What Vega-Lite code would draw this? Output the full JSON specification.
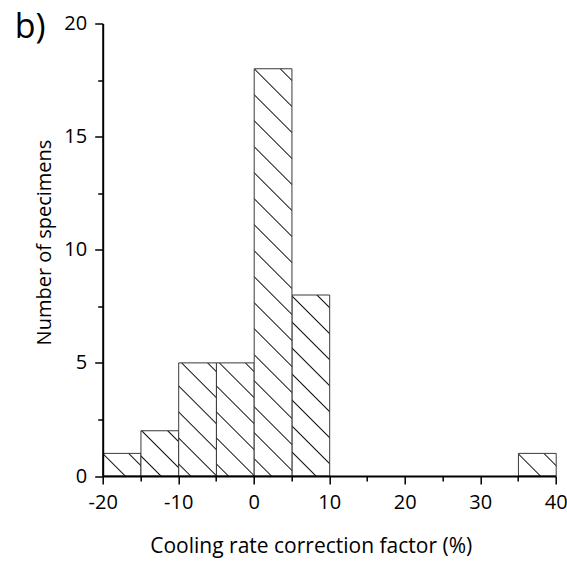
{
  "$schema": "https://vega.github.io/schema/vega-lite/v6.json",
  "width": 453,
  "height": 452.5,
  "autosize": "none",
  "padding": {"left": 102.7, "top": 23.5, "right": 11.3, "bottom": 89},
  "background": "#ffffff",
  "config": {"view": {"stroke": null}, "axis": {"grid": false}},
  "title": {"text": "b)", "anchor": "start", "frame": "group", "font": "Open Sans", "fontSize": 34, "fontWeight": "normal", "color": "#000", "baseline": "alphabetic", "offset": 0, "dx": -88, "dy": 58},
  "data": {"values": [
    {"bin_start": -20, "bin_end": -15, "count": 1},
    {"bin_start": -15, "bin_end": -10, "count": 2},
    {"bin_start": -10, "bin_end": -5, "count": 5},
    {"bin_start": -5, "bin_end": 0, "count": 5},
    {"bin_start": 0, "bin_end": 5, "count": 18},
    {"bin_start": 5, "bin_end": 10, "count": 8},
    {"bin_start": 35, "bin_end": 40, "count": 1}
  ]},
  "encoding": {
    "x": {"field": "bin_start", "type": "quantitative", "bin": "binned",
      "scale": {"domain": [-20, 40], "nice": false, "zero": false},
      "axis": {"title": "Cooling rate correction factor (%)", "zindex": 1,
        "values": [-20, -15, -10, -5, 0, 5, 10, 15, 20, 25, 30, 35, 40],
        "labelExpr": "datum.value % 10 === 0 ? '' + datum.value : ''",
        "tickSize": {"condition": {"test": "datum.value % 10 === 0", "value": 8}, "value": 5},
        "labelPadding": 8, "labelFont": "Open Sans", "labelFontSize": 20, "labelColor": "#000",
        "labelOverlap": false, "labelFlush": false,
        "domainColor": "#000", "domainWidth": 2, "tickColor": "#000", "tickWidth": 1.5,
        "titleFont": "Open Sans", "titleFontSize": 21, "titleFontWeight": "normal", "titleColor": "#000",
        "titleX": 208, "titleY": 76, "titleAlign": "center", "titleBaseline": "alphabetic"}},
    "x2": {"field": "bin_end"},
    "y": {"field": "count", "type": "quantitative",
      "scale": {"domain": [0, 20], "nice": false},
      "axis": {"title": "Number of specimens", "zindex": 1,
        "values": [0, 2.5, 5, 7.5, 10, 12.5, 15, 17.5, 20],
        "labelExpr": "datum.value % 5 === 0 ? '' + datum.value : ''",
        "tickSize": {"condition": {"test": "datum.value % 5 === 0", "value": 8}, "value": 5},
        "labelPadding": 8, "labelFont": "Open Sans", "labelFontSize": 20, "labelColor": "#000",
        "labelOverlap": false, "labelFlush": false,
        "domainColor": "#000", "domainWidth": 2, "tickColor": "#000", "tickWidth": 1.5,
        "titleFont": "Open Sans", "titleFontSize": 20, "titleFontWeight": "normal", "titleColor": "#000",
        "titleAngle": 270, "titleX": -52, "titleY": 218.5, "titleAlign": "center", "titleBaseline": "alphabetic"}}
  },
  "layer": [
    {"transform": [{"filter": "datum.count === 1"}],
     "mark": {"type": "bar", "binSpacing": 0, "stroke": "#3a3a3a", "strokeWidth": 1,
       "fill": {"gradient": "linear", "x1": 0, "y1": 1, "x2": 1.17667, "y2": 0.29478, "stops": [
         {"offset": 0, "color": "#fff"},
         {"offset": 0.3413, "color": "#fff"}, {"offset": 0.3645, "color": "#111"}, {"offset": 0.3877, "color": "#fff"},
         {"offset": 0.7722, "color": "#fff"}, {"offset": 0.7954, "color": "#111"}, {"offset": 0.8186, "color": "#fff"},
         {"offset": 1, "color": "#fff"}]}}},
    {"transform": [{"filter": "datum.count === 2"}],
     "mark": {"type": "bar", "binSpacing": 0, "stroke": "#3a3a3a", "strokeWidth": 1,
       "fill": {"gradient": "linear", "x1": 0, "y1": 1, "x2": 0.90227, "y2": -0.08152, "stops": [
         {"offset": 0, "color": "#fff"},
         {"offset": 0.2241, "color": "#fff"}, {"offset": 0.2410, "color": "#111"}, {"offset": 0.2578, "color": "#fff"},
         {"offset": 0.5373, "color": "#fff"}, {"offset": 0.5542, "color": "#111"}, {"offset": 0.5711, "color": "#fff"},
         {"offset": 0.8506, "color": "#fff"}, {"offset": 0.8675, "color": "#111"}, {"offset": 0.8843, "color": "#fff"},
         {"offset": 1, "color": "#fff"}]}}},
    {"transform": [{"filter": "datum.count === 5"}],
     "mark": {"type": "bar", "binSpacing": 0, "stroke": "#3a3a3a", "strokeWidth": 1,
       "fill": {"gradient": "linear", "x1": 0, "y1": 1, "x2": 0.40047, "y2": -0.20005, "stops": [
         {"offset": 0, "color": "#fff"},
         {"offset": 0.0703, "color": "#fff"}, {"offset": 0.0795, "color": "#111"}, {"offset": 0.0888, "color": "#fff"},
         {"offset": 0.2426, "color": "#fff"}, {"offset": 0.2519, "color": "#111"}, {"offset": 0.2612, "color": "#fff"},
         {"offset": 0.4150, "color": "#fff"}, {"offset": 0.4243, "color": "#111"}, {"offset": 0.4335, "color": "#fff"},
         {"offset": 0.5873, "color": "#fff"}, {"offset": 0.5966, "color": "#111"}, {"offset": 0.6059, "color": "#fff"},
         {"offset": 0.7597, "color": "#fff"}, {"offset": 0.7690, "color": "#111"}, {"offset": 0.7783, "color": "#fff"},
         {"offset": 0.9320, "color": "#fff"}, {"offset": 0.9413, "color": "#111"}, {"offset": 0.9506, "color": "#fff"},
         {"offset": 1, "color": "#fff"}]}}},
    {"transform": [{"filter": "datum.count === 8"}],
     "mark": {"type": "bar", "binSpacing": 0, "stroke": "#3a3a3a", "strokeWidth": 1,
       "fill": {"gradient": "linear", "x1": 0, "y1": 1, "x2": 0.24155, "y2": -0.15818, "stops": [
         {"offset": 0, "color": "#fff"},
         {"offset": 0.1033, "color": "#fff"}, {"offset": 0.1097, "color": "#111"}, {"offset": 0.1161, "color": "#fff"},
         {"offset": 0.2222, "color": "#fff"}, {"offset": 0.2286, "color": "#111"}, {"offset": 0.2350, "color": "#fff"},
         {"offset": 0.3410, "color": "#fff"}, {"offset": 0.3474, "color": "#111"}, {"offset": 0.3538, "color": "#fff"},
         {"offset": 0.4599, "color": "#fff"}, {"offset": 0.4663, "color": "#111"}, {"offset": 0.4727, "color": "#fff"},
         {"offset": 0.5787, "color": "#fff"}, {"offset": 0.5851, "color": "#111"}, {"offset": 0.5915, "color": "#fff"},
         {"offset": 0.6976, "color": "#fff"}, {"offset": 0.7040, "color": "#111"}, {"offset": 0.7104, "color": "#fff"},
         {"offset": 0.8165, "color": "#fff"}, {"offset": 0.8229, "color": "#111"}, {"offset": 0.8293, "color": "#fff"},
         {"offset": 0.9353, "color": "#fff"}, {"offset": 0.9417, "color": "#111"}, {"offset": 0.9481, "color": "#fff"},
         {"offset": 1, "color": "#fff"}]}}},
    {"transform": [{"filter": "datum.count === 18"}],
     "mark": {"type": "bar", "binSpacing": 0, "stroke": "#3a3a3a", "strokeWidth": 1,
       "fill": {"gradient": "linear", "x1": 0, "y1": 1, "x2": 0.10042, "y2": -0.08337, "stops": [
         {"offset": 0, "color": "#fff"},
         {"offset": 0.035618, "color": "#fff"}, {"offset": 0.038764, "color": "#111"}, {"offset": 0.041910, "color": "#fff"},
         {"offset": 0.094045, "color": "#fff"}, {"offset": 0.097191, "color": "#111"}, {"offset": 0.100337, "color": "#fff"},
         {"offset": 0.152472, "color": "#fff"}, {"offset": 0.155618, "color": "#111"}, {"offset": 0.158764, "color": "#fff"},
         {"offset": 0.210899, "color": "#fff"}, {"offset": 0.214045, "color": "#111"}, {"offset": 0.217191, "color": "#fff"},
         {"offset": 0.269326, "color": "#fff"}, {"offset": 0.272472, "color": "#111"}, {"offset": 0.275618, "color": "#fff"},
         {"offset": 0.327753, "color": "#fff"}, {"offset": 0.330899, "color": "#111"}, {"offset": 0.334045, "color": "#fff"},
         {"offset": 0.386180, "color": "#fff"}, {"offset": 0.389326, "color": "#111"}, {"offset": 0.392472, "color": "#fff"},
         {"offset": 0.444607, "color": "#fff"}, {"offset": 0.447753, "color": "#111"}, {"offset": 0.450899, "color": "#fff"},
         {"offset": 0.503034, "color": "#fff"}, {"offset": 0.506180, "color": "#111"}, {"offset": 0.509326, "color": "#fff"},
         {"offset": 0.561461, "color": "#fff"}, {"offset": 0.564607, "color": "#111"}, {"offset": 0.567753, "color": "#fff"},
         {"offset": 0.619888, "color": "#fff"}, {"offset": 0.623034, "color": "#111"}, {"offset": 0.626180, "color": "#fff"},
         {"offset": 0.678315, "color": "#fff"}, {"offset": 0.681461, "color": "#111"}, {"offset": 0.684607, "color": "#fff"},
         {"offset": 0.736742, "color": "#fff"}, {"offset": 0.739888, "color": "#111"}, {"offset": 0.743034, "color": "#fff"},
         {"offset": 0.795169, "color": "#fff"}, {"offset": 0.798315, "color": "#111"}, {"offset": 0.801461, "color": "#fff"},
         {"offset": 0.853596, "color": "#fff"}, {"offset": 0.856742, "color": "#111"}, {"offset": 0.859888, "color": "#fff"},
         {"offset": 0.912023, "color": "#fff"}, {"offset": 0.915169, "color": "#111"}, {"offset": 0.918315, "color": "#fff"},
         {"offset": 0.970450, "color": "#fff"}, {"offset": 0.973596, "color": "#111"}, {"offset": 0.976742, "color": "#fff"},
         {"offset": 1, "color": "#fff"}]}}}
  ]
}
